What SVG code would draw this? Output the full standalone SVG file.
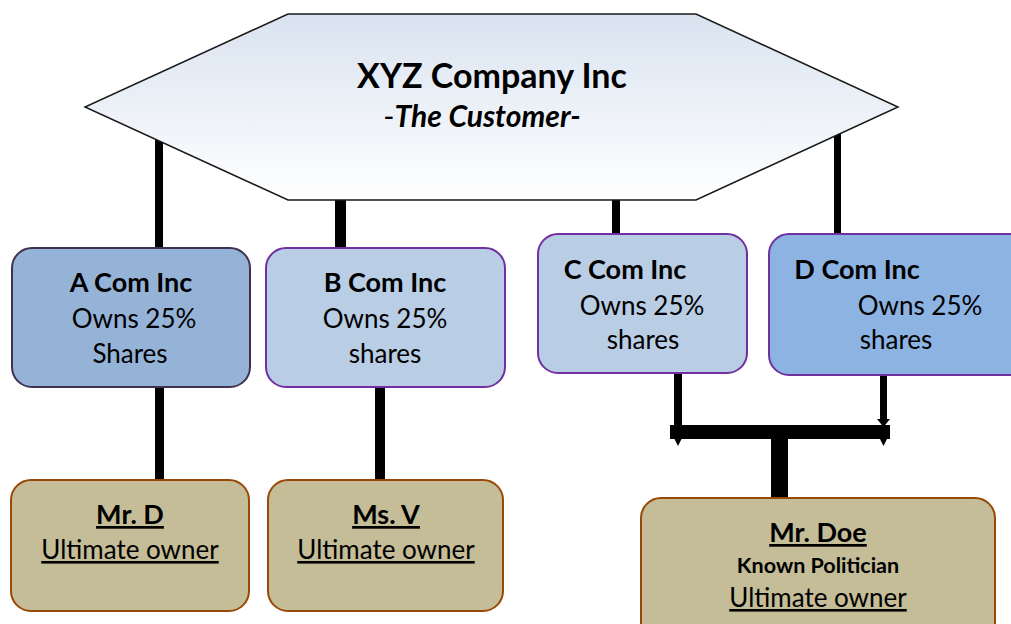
<svg xmlns="http://www.w3.org/2000/svg" width="1011" height="624" viewBox="0 0 1011 624">
  <style>
    text { font-family: Lato, "Liberation Sans", sans-serif; fill: #000; text-anchor: middle; }
    .t { font-size: 26px; }
    .b { font-weight: bold; font-size: 27px; }
    .co { stroke: #7030a0; stroke-width: 2; }
    .owner { fill: #c4bd97; stroke: #984807; stroke-width: 2; }
    .u { text-decoration: underline; }
    .bar { fill: #000; }
  </style>
  <defs>
    <linearGradient id="hexFill" x1="0" y1="0" x2="0" y2="1">
      <stop offset="0" stop-color="#d9e3f0"/>
      <stop offset="1" stop-color="#ffffff"/>
    </linearGradient>
  </defs>

  <!-- connectors: ownership links -->
  <g id="connectors">
    <rect class="bar" x="155" y="135" width="8" height="114"/>
    <rect class="bar" x="335" y="195" width="11" height="54"/>
    <rect class="bar" x="612" y="195" width="8" height="40"/>
    <rect class="bar" x="834" y="130" width="7" height="105"/>
    <rect class="bar" x="155" y="386" width="9" height="95"/>
    <rect class="bar" x="375" y="386" width="10" height="95"/>
    <!-- C and D merge into one stem down to Mr. Doe -->
    <rect class="bar" x="674" y="372" width="8" height="54"/>
    <rect class="bar" x="880" y="374" width="7" height="47"/>
    <polygon class="bar" points="877,419 890,419 883.5,427"/>
    <rect class="bar" x="670" y="425" width="220" height="14"/>
    <polygon class="bar" points="674,438 682,438 678,446"/>
    <polygon class="bar" points="879.5,438 887.5,438 883.5,446"/>
    <rect class="bar" x="771" y="438" width="17" height="61"/>
  </g>

  <g id="xyz">
    <polygon points="288,14 696,14 898,107 696,200 288,200 85,107" fill="url(#hexFill)" stroke="#1a1a1a" stroke-width="1.5"/>
    <text x="492" y="88" font-weight="bold" font-size="34">XYZ Company Inc</text>
    <text x="482" y="127" font-size="30">-<tspan font-weight="bold" font-style="italic">The Customer-</tspan></text>
  </g>

  <g id="a-com">
    <rect x="12" y="248" width="238" height="139" rx="20" fill="#95b3d7" stroke="#403152" stroke-width="2"/>
    <text x="131" y="292" class="b">A Com Inc</text>
    <text x="134" y="328" class="t">Owns 25%</text>
    <text x="130" y="363" class="t">Shares</text>
  </g>

  <g id="b-com">
    <rect x="266" y="248" width="239" height="139" rx="20" fill="#b9cde5" class="co"/>
    <text x="385" y="292" class="b">B Com Inc</text>
    <text x="385" y="328" class="t">Owns 25%</text>
    <text x="385" y="363" class="t">shares</text>
  </g>

  <g id="c-com">
    <rect x="538" y="234" width="209" height="139" rx="20" fill="#b9cde5" class="co"/>
    <text x="625" y="279" class="b">C Com Inc</text>
    <text x="642" y="315" class="t">Owns 25%</text>
    <text x="643" y="349" class="t">shares</text>
  </g>

  <g id="d-com">
    <rect x="769" y="234" width="260" height="141" rx="20" fill="#8db3e2" class="co"/>
    <text x="857" y="279" class="b">D Com Inc</text>
    <text x="920" y="315" class="t">Owns 25%</text>
    <text x="896" y="349" class="t">shares</text>
  </g>

  <g id="mr-d">
    <rect x="11" y="480" width="238" height="131" rx="20" class="owner"/>
    <text x="130" y="524" class="b u">Mr. D</text>
    <text x="130" y="559" class="t u">Ultimate owner</text>
  </g>

  <g id="ms-v">
    <rect x="268" y="480" width="235" height="131" rx="20" class="owner"/>
    <text x="386" y="524" class="b u">Ms. V</text>
    <text x="386" y="559" class="t u">Ultimate owner</text>
  </g>

  <g id="mr-doe">
    <rect x="641" y="498" width="354" height="145" rx="20" class="owner"/>
    <text x="818" y="542" class="b u">Mr. Doe</text>
    <text x="818" y="573" font-weight="bold" font-size="21.5">Known Politician</text>
    <text x="818" y="607" class="t u">Ultimate owner</text>
  </g>
</svg>
